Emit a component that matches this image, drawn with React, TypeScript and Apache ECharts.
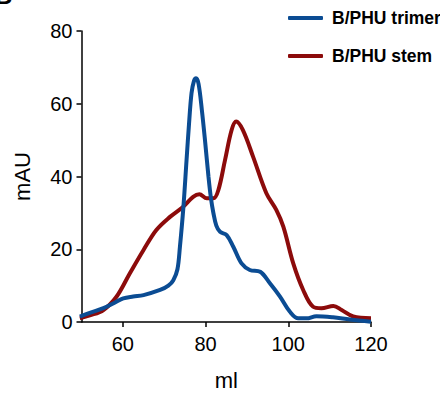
import React, { useEffect, useRef } from "react";
import * as echarts from "echarts";

const seriesNames = ["B/PHU trimer", "B/PHU stem"];
const xTicks = [60, 80, 100, 120];

const trimerMl = [49.6, 52, 55.3, 58, 60.1, 62.5, 65, 69, 71, 72.2, 73.2, 73.8, 74.6, 75.4, 76.0, 76.6, 77.2, 77.7, 78.3, 79.1, 79.9, 80.7, 81.3, 81.9, 82.6, 83.5, 85.1, 86.7, 88.7, 90.7, 93.2, 95.6, 98, 100.4, 102.4, 104.4, 106.8, 110.8, 114.9, 120];
const trimerMau = [1.5, 2.5, 3.8, 5.3, 6.5, 7.0, 7.4, 8.8, 10.0, 11.5, 14.5, 20.7, 31, 44.5, 54.5, 62.9, 66.3, 67.0, 65.5, 58.3, 49.5, 40, 34, 29.9, 26.5, 24.8, 23.9, 20.7, 16.1, 14.3, 13.8, 10.6, 7.0, 2.8, 1.0, 1.0, 1.6, 1.3, 0.7, 0.1];

const stemMl = [49.6, 52, 55.3, 58.5, 61.7, 65, 68.1, 71.4, 74.6, 77, 78.5, 80.3, 81.9, 83.1, 84.7, 86.3, 87.4, 89, 91.5, 94.7, 97.1, 98.8, 101.2, 103.6, 106, 108, 110.9, 112.9, 115.7, 120];
const stemMau = [1.0, 1.8, 3.3, 7.0, 13.4, 19.8, 25.3, 28.9, 31.7, 34.4, 35.1, 34.0, 34.0, 36.3, 44.5, 52.8, 55.1, 52.8, 45.4, 35.4, 30.8, 26.2, 16.1, 8.8, 4.2, 3.8, 4.4, 3.3, 1.5, 1.0];

const blue = "#0b4c93";
const red = "#8c0b0b";

export default function App() {
  const ref = useRef<HTMLDivElement>(null);
  useEffect(() => {
    if (!ref.current) return;
    const chart = echarts.init(ref.current, undefined, { renderer: "svg" });
    const font = "'Liberation Sans', Arial, sans-serif";
    const axisCommon = {
      axisLine: { show: true, lineStyle: { color: "#000", width: 1.5 } },
      axisTick: { show: true, length: 5, lineStyle: { color: "#000", width: 1.5 } },
      splitLine: { show: false },
      axisLabel: { color: "#000", fontSize: 20, fontFamily: font },
      nameTextStyle: { color: "#000", fontSize: 22, fontFamily: font },
    };
    chart.setOption({
      animation: false,
      backgroundColor: "#fff",
      grid: { left: 81.5, right: 69, top: 31, bottom: 71, containLabel: false, outerBoundsMode: "none" },
      legend: {
        orient: "vertical",
        left: 283,
        top: 4,
        itemGap: 20,
        itemWidth: 35,
        itemHeight: 4,
        icon: "roundRect",
        data: seriesNames,
        textStyle: { color: "#000", fontSize: 17.5, fontWeight: "bold", fontFamily: font, padding: [0, 0, 0, 4] },
      },
      xAxis: {
        type: "value",
        min: 50,
        max: 120,
        name: "ml",
        nameLocation: "middle",
        nameGap: 47,
        ...axisCommon,
        axisTick: { ...axisCommon.axisTick, customValues: xTicks },
        axisLabel: { ...axisCommon.axisLabel, margin: 12, customValues: xTicks },
      },
      yAxis: {
        type: "value",
        min: 0,
        max: 80,
        interval: 20,
        name: "mAU",
        nameLocation: "middle",
        nameRotate: 90,
        nameGap: 48,
        ...axisCommon,
        axisLabel: { ...axisCommon.axisLabel, margin: 9 },
      },
      graphic: [
        { type: "text", left: -5, top: -17, style: { text: "B", fontSize: 24, fontWeight: "bold", fill: "#000", fontFamily: font } },
      ],
      series: [
        {
          name: seriesNames[0],
          type: "line",
          data: trimerMl.map((x, i) => [x, trimerMau[i]]),
          smooth: 0.35,
          showSymbol: false,
          lineStyle: { color: blue, width: 4 },
          itemStyle: { color: blue },
          z: 3,
        },
        {
          name: seriesNames[1],
          type: "line",
          data: stemMl.map((x, i) => [x, stemMau[i]]),
          smooth: 0.35,
          showSymbol: false,
          lineStyle: { color: red, width: 4 },
          itemStyle: { color: red },
          z: 2,
        },
      ],
    });
    return () => chart.dispose();
  }, []);
  return <div ref={ref} style={{ position: "fixed", left: 0, top: 0, width: 440, height: 393 }} />;
}
